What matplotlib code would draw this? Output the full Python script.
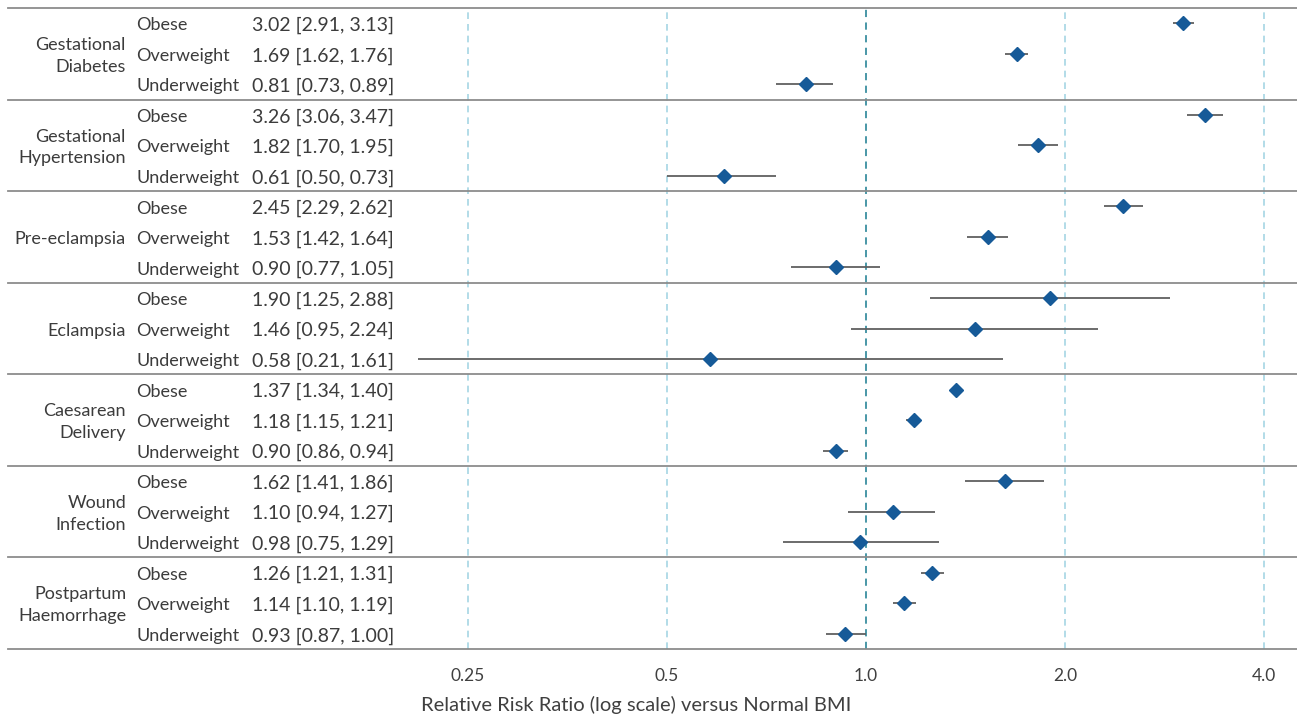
import numpy as np
import matplotlib
matplotlib.use('Agg')
import matplotlib.pyplot as plt
from matplotlib.transforms import blended_transform_factory

# forest plot data
outcomes = ["Gestational\nDiabetes", "Gestational\nHypertension", "Pre-eclampsia",
            "Eclampsia", "Caesarean\nDelivery", "Wound\nInfection",
            "Postpartum\nHaemorrhage"]
bmi_groups = ["Obese", "Overweight", "Underweight"]

rr = [3.02, 1.69, 0.81,
      3.26, 1.82, 0.61,
      2.45, 1.53, 0.90,
      1.90, 1.46, 0.58,
      1.37, 1.18, 0.90,
      1.62, 1.10, 0.98,
      1.26, 1.14, 0.93]
ci_low = [2.91, 1.62, 0.73,
          3.06, 1.70, 0.50,
          2.29, 1.42, 0.77,
          1.25, 0.95, 0.21,
          1.34, 1.15, 0.86,
          1.41, 0.94, 0.75,
          1.21, 1.10, 0.87]
ci_high = [3.13, 1.76, 0.89,
           3.47, 1.95, 0.73,
           2.62, 1.64, 1.05,
           2.88, 2.24, 1.61,
           1.40, 1.21, 0.94,
           1.86, 1.27, 1.29,
           1.31, 1.19, 1.00]
xticks = [0.25, 0.5, 1.0, 2.0, 4.0]
xtick_labels = ["0.25", "0.5", "1.0", "2.0", "4.0"]

plt.rcParams['font.family'] = ['Lato', 'DejaVu Sans']
W, H = 1297, 720
fig = plt.figure(figsize=(W / 100, H / 100), dpi=100)
ax = fig.add_axes([400 / W, 1 - 649 / H, 897 / W, 641 / H])

n = len(rr)
y = np.arange(n)
ax.set_xscale('log', base=2)
ax.set_xlim(0.25 * 2 ** (-68 / 199.0), 2 ** ((1297 - 866) / 199.0))
ax.set_ylim(n - 0.5, -0.5)

# reference lines
for t in xticks:
    if t == 1.0:
        ax.axvline(t, color='#3a8fa0', lw=1.3, ls=(0, (4, 3)), zorder=1)
    else:
        ax.axvline(t, color='#a6d6e4', lw=1.2, ls=(0, (4, 3)), zorder=1)

# CI bars and diamonds
ax.hlines(y, ci_low, ci_high, color='#606060', lw=1.3, zorder=2)
ax.plot(rr, y, 'D', color='#165a98', markersize=7, zorder=3)

# group separators spanning the label columns too
x0 = (8 - 400) / 897.0
for k in range(len(outcomes) + 1):
    ax.axhline(3 * k - 0.5, xmin=x0, xmax=1, color='#8c8c8c', lw=1.3,
               clip_on=False, zorder=2)

tr = blended_transform_factory(fig.transFigure, ax.transData)
txt_color = '#3c3c3c'
dy = 0.07
for g, name in enumerate(outcomes):
    ax.text(126 / W, 3 * g + 1 + dy, name, transform=tr, ha='right', va='center',
            fontsize=13, color=txt_color, linespacing=1.45)
    for j, b in enumerate(bmi_groups):
        i = 3 * g + j
        ax.text(136 / W, i + dy, b, transform=tr, ha='left', va='center',
                fontsize=13, color=txt_color)
        ax.text(252 / W, i + dy, "%.2f [%.2f, %.2f]" % (rr[i], ci_low[i], ci_high[i]),
                transform=tr, ha='left', va='center', fontsize=14, color=txt_color)

ax.set_xticks(xticks)
ax.set_xticklabels(xtick_labels)
ax.minorticks_off()
ax.tick_params(axis='x', length=0, pad=14, labelsize=12.5, labelcolor='#404040')
ax.set_yticks([])
for s in ax.spines.values():
    s.set_visible(False)

fig.text(636 / W, 1 - 705 / H, "Relative Risk Ratio (log scale) versus Normal BMI",
         ha='center', va='center', fontsize=14.5, color='#404040')

fig.savefig('out.png', dpi=100)
